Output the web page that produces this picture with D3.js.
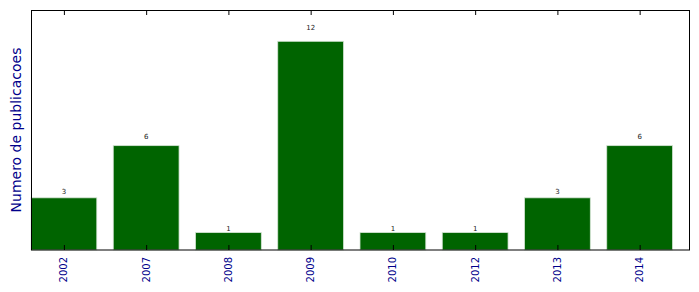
<!DOCTYPE html>
<html>
<head>
<meta charset="utf-8">
<script src="https://cdn.jsdelivr.net/npm/d3@7"></script>
<style>
  body { margin: 0; background: #fff; }
  svg { display: block; font-family: "DejaVu Sans", sans-serif; }
</style>
</head>
<body>
<div id="chart"></div>
<script>
// data
var years = ["2002", "2007", "2008", "2009", "2010", "2012", "2013", "2014"];
var counts = [3, 6, 1, 12, 1, 1, 3, 6];
var yLabel = "Numero de publicacoes";

var W = 699, H = 292;
var margin = {top: 10, right: 10, bottom: 42, left: 31};
var width = W - margin.left - margin.right,
    height = H - margin.top - margin.bottom;

var svg = d3.select("#chart")
  .append("svg")
    .attr("width", W)
    .attr("height", H);

var g = svg.append("g")
  .attr("transform", "translate(" + margin.left + "," + margin.top + ")");

// matplotlib-like limits: bars of width 0.8, xlim [-0.4, n-0.4]
var x = d3.scaleLinear()
  .domain([-0.4, years.length - 0.4])
  .range([0, width]);

var y = d3.scaleLinear()
  .domain([0, d3.max(counts) * 1.15])
  .range([height, 0]);

var barW = x(0.8) - x(0);

g.selectAll("rect.bar")
  .data(counts)
  .enter()
  .append("rect")
    .attr("class", "bar")
    .attr("x", function(d, i) { return x(i - 0.4); })
    .attr("y", function(d) { return y(d); })
    .attr("width", barW)
    .attr("height", function(d) { return height - y(d); })
    .style("fill", "#006400")
    .style("stroke", "#d4e4d4")
    .style("stroke-width", 0.8);

// value labels
g.selectAll("text.val")
  .data(counts)
  .enter()
  .append("text")
    .attr("class", "val")
    .attr("x", function(d, i) { return x(i); })
    .attr("y", function(d) { return y(d * 1.05) - 1; })
    .attr("text-anchor", "middle")
    .style("font-size", "7px")
    .style("fill", "#222")
    .text(function(d) { return d; });

// frame
g.append("rect")
  .attr("x", 0.5)
  .attr("y", 0.5)
  .attr("width", width)
  .attr("height", height - 0.5)
  .style("fill", "none")
  .style("stroke", "#000")
  .style("stroke-width", 1);

// ticks, inside, top and bottom
var idx = d3.range(years.length);
var xAxisB = d3.axisBottom(x).tickValues(idx).tickSizeInner(-5).tickSizeOuter(0).tickFormat("");
var xAxisT = d3.axisTop(x).tickValues(idx).tickSizeInner(-5).tickSizeOuter(0).tickFormat("");

var ab = g.append("g").attr("transform", "translate(0," + height + ")").call(xAxisB);
var at = g.append("g").call(xAxisT);
[ab, at].forEach(function(a) {
  a.select(".domain").remove();
  a.selectAll(".tick line").style("stroke", "#000");
});

// rotated tick labels
g.selectAll("text.tl")
  .data(years)
  .enter()
  .append("text")
    .attr("class", "tl")
    .attr("transform", function(d, i) {
      return "translate(" + (x(i) + 3.5) + "," + (height + 7) + ") rotate(-90)";
    })
    .attr("text-anchor", "end")
    .style("font-size", "10px")
    .style("fill", "#00008b")
    .text(function(d) { return d; });

// y label
svg.append("text")
  .attr("transform", "translate(" + 20.5 + "," + (margin.top + height / 2) + ") rotate(-90)")
  .attr("text-anchor", "middle")
  .style("font-size", "14px")
  .style("fill", "#00008b")
  .text(yLabel);
</script>
</body>
</html>
